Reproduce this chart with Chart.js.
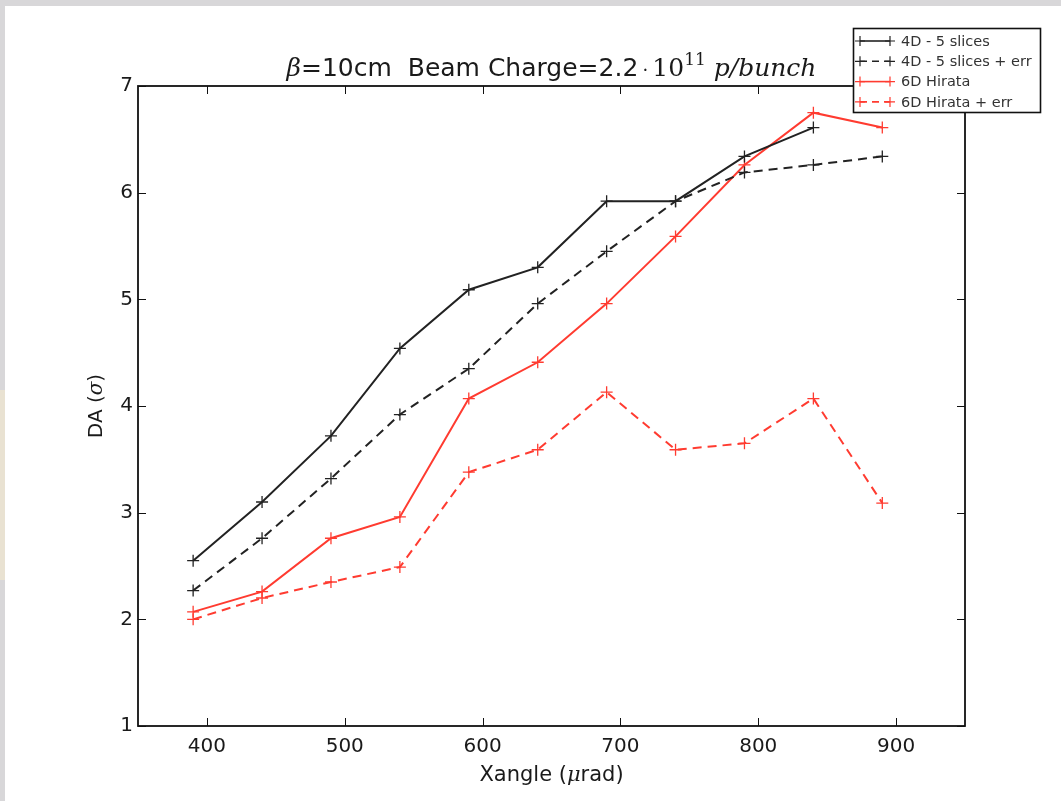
<!DOCTYPE html>
<html>
<head>
<meta charset="utf-8">
<script src="https://cdn.jsdelivr.net/npm/chart.js@4.4.0/dist/chart.umd.min.js"></script>
<style>
  html, body { margin: 0; padding: 0; background: #d8d7d9; }
  #wrap { position: absolute; left: 0; top: 0; width: 1061px; height: 801px; }
</style>
</head>
<body>
<div id="wrap"><canvas id="daChart" width="1061" height="801"></canvas></div>
<script>
// x values (crossing angle, urad)
const xangle = [390, 440, 490, 540, 590, 640, 690, 740, 790, 840, 890]

// DA values per series (sigma)
const da4d = [2.55, 3.10, 3.72, 4.54, 5.09, 5.30, 5.92, 5.92, 6.34, 6.61, null]
const da4dErr = [2.27, 2.76, 3.32, 3.92, 4.35, 4.96, 5.45, 5.92, 6.19, 6.26, 6.34]
const da6d = [2.07, 2.26, 2.76, 2.96, 4.07, 4.41, 4.96, 5.59, 6.26, 6.75, 6.61]
const da6dErr = [2.00, 2.20, 2.35, 2.49, 3.38, 3.59, 4.13, 3.59, 3.65, 4.07, 3.09]

const seriesLabels = ['4D - 5 slices', '4D - 5 slices + err', '6D Hirata', '6D Hirata + err']
const xTicks = [400, 500, 600, 700, 800, 900]
const yTicks = [1, 2, 3, 4, 5, 6, 7]

const BLACK = '#222222'
const RED = '#ff3b30'

// turn x + y arrays into points, skip missing ones
const toPoints = (ys) => xangle.map((x, i) => ({ x: x, y: ys[i] })).filter(p => p.y !== null)

const makeDataset = (label, ys, color, dashed) => ({
  label: label,
  data: toPoints(ys),
  borderColor: color,
  backgroundColor: color,
  borderWidth: 2,
  borderDash: dashed ? [9, 6] : [],
  pointStyle: 'cross',
  pointRadius: 6,
  pointBorderWidth: 1.3,
  pointBorderColor: color,
  tension: 0,
  fill: false,
})

const datasets = [
  makeDataset(seriesLabels[0], da4d, BLACK, false),
  makeDataset(seriesLabels[1], da4dErr, BLACK, true),
  makeDataset(seriesLabels[2], da6d, RED, false),
  makeDataset(seriesLabels[3], da6dErr, RED, true),
]

// page background: grey strip at top/left, white sheet
const backgroundPlugin = {
  id: 'sheet',
  beforeDraw(chart) {
    const ctx = chart.ctx
    ctx.save()
    ctx.fillStyle = '#d8d7d9'
    ctx.fillRect(0, 0, chart.width, chart.height)
    ctx.fillStyle = '#e9e2d2'
    ctx.fillRect(0, 390, 5, 190)
    ctx.fillStyle = '#ffffff'
    ctx.fillRect(5, 6, chart.width - 5, chart.height - 6)
    ctx.restore()
  }
}

// frame, inward ticks, tick labels, axis titles, plot title
const axesPlugin = {
  id: 'mplAxes',
  afterDatasetsDraw(chart) {
    const ctx = chart.ctx
    const a = chart.chartArea
    const xs = chart.scales.x
    const ys = chart.scales.y
    ctx.save()
    ctx.strokeStyle = '#111'
    ctx.lineWidth = 1.8
    ctx.strokeRect(a.left, a.top, a.right - a.left, a.bottom - a.top)

    ctx.lineWidth = 1
    ctx.beginPath()
    xTicks.forEach(t => {
      const px = Math.round(xs.getPixelForValue(t)) + 0.5
      ctx.moveTo(px, a.bottom); ctx.lineTo(px, a.bottom - 8)
      ctx.moveTo(px, a.top); ctx.lineTo(px, a.top + 8)
    })
    yTicks.forEach(t => {
      const py = Math.round(ys.getPixelForValue(t)) + 0.5
      ctx.moveTo(a.left, py); ctx.lineTo(a.left + 8, py)
      ctx.moveTo(a.right, py); ctx.lineTo(a.right - 8, py)
    })
    ctx.stroke()

    ctx.fillStyle = '#1a1a1a'
    ctx.font = '20px "DejaVu Sans"'
    ctx.textAlign = 'center'
    ctx.textBaseline = 'middle'
    xTicks.forEach(t => ctx.fillText(String(t), xs.getPixelForValue(t), a.bottom + 21))
    ctx.textAlign = 'right'
    yTicks.forEach(t => ctx.fillText(String(t), a.left - 5, ys.getPixelForValue(t)))

    // axis titles
    const cx = (a.left + a.right) / 2
    drawRuns(ctx, [
      { t: 'Xangle (', f: '21px "DejaVu Sans"' },
      { t: 'μ', f: 'italic 21px "DejaVu Serif"' },
      { t: 'rad)', f: '21px "DejaVu Sans"' },
    ], cx, 781, 'center')
    ctx.save()
    ctx.translate(95, (a.top + a.bottom) / 2)
    ctx.rotate(-Math.PI / 2)
    drawRuns(ctx, [
      { t: 'DA (', f: '20px "DejaVu Sans"' },
      { t: 'σ', f: 'italic 20px "DejaVu Serif"' },
      { t: ')', f: '20px "DejaVu Sans"' },
    ], 0, 7, 'center')
    ctx.restore()

    // plot title
    drawRuns(ctx, [
      { t: 'β', f: 'italic 25px "DejaVu Serif"' },
      { t: '=10cm  Beam Charge=2.2', f: '25px "DejaVu Sans"' },
      { t: '·', f: '18px "DejaVu Serif"', w: 14 },
      { t: '10', f: '25px "DejaVu Serif"' },
      { t: '11', f: '17px "DejaVu Serif"', dy: -11 },
      { t: ' p/bunch', f: 'italic 25px "DejaVu Serif"' },
    ], cx, 76, 'center')
    ctx.restore()
  }
}

// draw text pieces with different fonts on one baseline
function drawRuns(ctx, runs, x, y, align) {
  ctx.save()
  ctx.textBaseline = 'alphabetic'
  ctx.textAlign = 'left'
  const widths = runs.map(r => { ctx.font = r.f; return r.w || ctx.measureText(r.t).width })
  const total = widths.reduce((s, w) => s + w, 0)
  let cur = align === 'center' ? x - total / 2 : x
  runs.forEach((r, i) => {
    ctx.font = r.f
    if (r.w) {
      const mw = ctx.measureText(r.t).width
      ctx.fillText(r.t, cur + (r.w - mw) / 2, y + (r.dy || 0))
    } else {
      ctx.fillText(r.t, cur, y + (r.dy || 0))
    }
    cur += widths[i]
  })
  ctx.restore()
}

// matplotlib style legend box in the top right corner
const legendPlugin = {
  id: 'mplLegend',
  afterDraw(chart) {
    const ctx = chart.ctx
    const box = { x: 853.5, y: 28.5, w: 187, h: 84 }
    ctx.save()
    ctx.fillStyle = '#ffffff'
    ctx.fillRect(box.x, box.y, box.w, box.h)
    ctx.strokeStyle = '#111'
    ctx.lineWidth = 1.6
    ctx.strokeRect(box.x, box.y, box.w, box.h)
    chart.data.datasets.forEach((ds, i) => {
      const yy = 41 + i * 20.3
      ctx.strokeStyle = ds.borderColor
      ctx.lineWidth = 1.6
      ctx.setLineDash(ds.borderDash.length ? [7, 5] : [])
      ctx.beginPath()
      ctx.moveTo(860, yy); ctx.lineTo(890, yy)
      ctx.stroke()
      ctx.setLineDash([])
      ctx.lineWidth = 1.2
      ctx.beginPath();
      [860, 890].forEach(px => {
        ctx.moveTo(px - 5, yy); ctx.lineTo(px + 5, yy)
        ctx.moveTo(px, yy - 5); ctx.lineTo(px, yy + 5)
      })
      ctx.stroke()
      ctx.fillStyle = '#333'
      ctx.font = '14.5px "DejaVu Sans"'
      ctx.textAlign = 'left'
      ctx.textBaseline = 'middle'
      ctx.fillText(ds.label, 901, yy + 1)
    })
    ctx.restore()
  }
}

const ctx = document.getElementById('daChart').getContext('2d')
const daChart = new Chart(ctx, {
  type: 'line',
  data: { datasets: datasets },
  options: {
    responsive: false,
    animation: false,
    layout: { padding: { left: 0, top: 86, right: 96, bottom: 0 } },
    plugins: {
      legend: { display: false },
      title: { display: false },
      tooltip: { enabled: false },
    },
    scales: {
      x: {
        type: 'linear',
        min: 350,
        max: 950,
        grid: { display: false, drawTicks: false },
        border: { display: false },
        ticks: { display: false, stepSize: 100 },
        afterFit: (s) => { s.height = 75 },
      },
      y: {
        type: 'linear',
        min: 1,
        max: 7,
        grid: { display: false, drawTicks: false },
        border: { display: false },
        ticks: { display: false, stepSize: 1 },
        afterFit: (s) => { s.width = 138 },
      },
    },
  },
  plugins: [backgroundPlugin, axesPlugin, legendPlugin],
})
</script>
</body>
</html>
